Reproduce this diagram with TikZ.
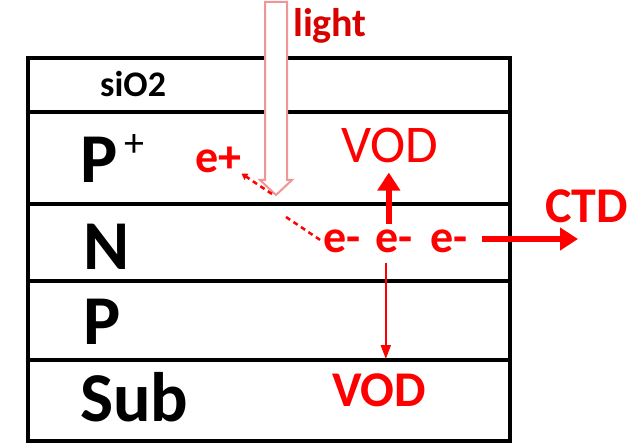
\documentclass[tikz,border=0pt]{standalone}
\usepackage{fontspec}
\setmainfont{Carlito}
\usetikzlibrary{arrows.meta}
\definecolor{myred}{RGB}{255,0,0}
\definecolor{lightpink}{RGB}{240,150,150}
\tikzset{
  layer/.style={line width=4.5pt, black},
  blk/.style={inner sep=0pt, anchor=base west, text=black, font=\bfseries\fontsize{70}{70}\selectfont},
  redb/.style={inner sep=0pt, anchor=base west, text=myred, font=\bfseries\fontsize{50}{50}\selectfont},
  elec/.style={inner sep=0pt, anchor=base west, text=myred, font=\bfseries\fontsize{46}{46}\selectfont},
  thickarr/.style={myred, line width=6pt, -{Triangle[length=18pt,width=22pt]}},
  thinarr/.style={myred, line width=2pt, -{Triangle[length=14pt,width=10pt]}},
  dasharr/.style={myred, line width=2.5pt, dash pattern=on 5pt off 4pt},
}
\begin{document}
\begin{tikzpicture}[x=1pt,y=-1pt]
\useasboundingbox (0,0) rectangle (641,446);
% layers
\draw[layer] (28,58) rectangle (510,441);
\draw[layer] (28,112) -- (510,112);
\draw[layer] (28,204) -- (510,204);
\draw[layer] (28,281) -- (510,281);
\draw[layer] (28,360) -- (510,360);
% layer labels
\node[blk, font=\bfseries\fontsize{36}{36}\selectfont] (sio2) at (100,97) {siO2};
\node[blk] (pplus) at (80,183) {P};
\node[inner sep=0pt, font=\fontsize{40}{40}\selectfont] (plus) at (134,146) {+};
\node[blk] (n) at (83,270) {N};
\node[blk] (p) at (83,345) {P};
\node[blk] (sub) at (80,422) {Sub};
% light arrow
\draw[lightpink, line width=2pt, fill=white] (265,2) -- (265,180) -- (260,180) -- (276,195) -- (292,180) -- (287,180) -- (287,2) -- cycle;
\node[inner sep=0pt, anchor=base west, text=myred!85!black, font=\bfseries\fontsize{40}{40}\selectfont] (light) at (293,37) {light};
% carriers
\node[elec] (eplus) at (195,173) {e+};
\node[elec] (e1) at (323,253) {e-};
\node[elec] (e2) at (375,253) {e-};
\node[elec] (e3) at (430,253) {e-};
\coordinate (d1a) at (272,194);
\coordinate (d2a) at (286,217);
\draw[dasharr, -{Triangle[length=6pt,width=7pt]}] (d1a) -- (eplus.south east);
\draw[dasharr] (d2a) -- (e1.west);
% VOD top
\node[inner sep=0pt, anchor=base west, text=myred, font=\fontsize{53}{53}\selectfont] (vodtop) at (341,163) {VOD};
\draw[thickarr] ([xshift=-5pt,yshift=6pt]e2.north) -- ([xshift=-5pt,yshift=-9pt]e2.north |- vodtop.south);
% CTD
\node[redb] (ctd) at (545,223) {CTD};
\coordinate (ctdend) at (578,239);
\draw[thickarr] ([xshift=14pt]e3.east |- ctdend) -- (ctdend);
% VOD bottom
\node[redb] (vodbot) at (332,407) {VOD};
\draw[thinarr] ([xshift=-8pt,yshift=-9pt]e2.south) -- ([xshift=-8pt,yshift=15pt]e2.south |- vodbot.north);
\end{tikzpicture}
\end{document}
